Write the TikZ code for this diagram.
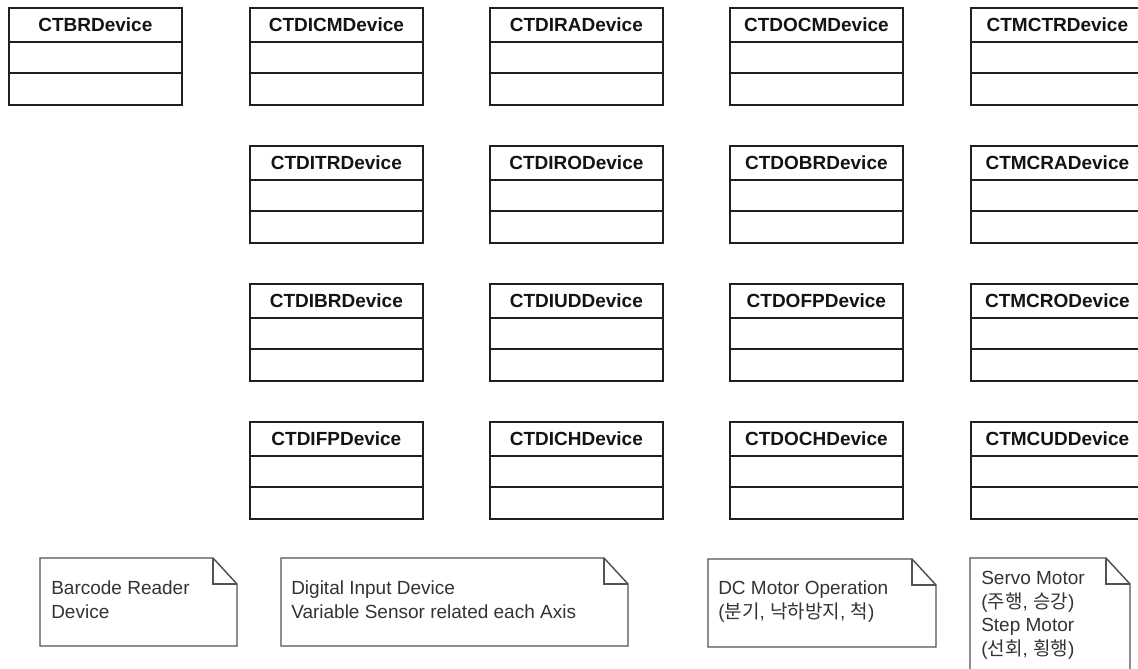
\documentclass[tikz,border=0pt]{standalone}
\usepackage{fontspec}
\setmainfont{Liberation Sans}
\newfontfamily\krfont{Noto Sans CJK KR}
\newcommand\kr[1]{{\krfont #1}}
\usetikzlibrary{calc}

\tikzset{
  classframe/.style={draw=black!88, line width=1.3pt, fill=white,
    minimum width=129.75pt, minimum height=72.75pt, inner sep=0pt, anchor=north west},
  classline/.style={draw=black!88, line width=1.3pt},
  classtitle/.style={font=\bfseries\fontsize{14.25pt}{17pt}\selectfont, text=black!92,
    inner sep=0pt, anchor=base},
  noteframe/.style={draw=black!68, line width=1.1pt, line join=miter},
  % multi-line text: the base anchor sits on the last line
  notetext/.style={font=\fontsize{14.25pt}{17.6pt}\selectfont, text=black!80,
    align=left, inner sep=0pt, anchor=base west},
}

% UML class box: name, left x, top y, title
\newcommand\umlclass[4]{%
  \node[classframe] (#1) at (#2,#3) {};
  \draw[classline] ($(#1.north west)+(0,35)$) -- ($(#1.north east)+(0,35)$);
  \draw[classline] ($(#1.north west)+(0,66)$) -- ($(#1.north east)+(0,66)$);
  \node[classtitle] (#1-title) at ($(#1.north)+(0,24)$) {#4};
}

% UML note outline with folded corner: left, top, right, bottom
\newcommand\umlnote[4]{%
  \draw[noteframe] (#1,#2) -- (#3-24,#2) -- (#3,#2+26) -- (#3,#4) -- (#1,#4) -- cycle;
  \draw[noteframe] (#3-24,#2) -- (#3-24,#2+26) -- (#3,#2+26);
}

\begin{document}
\begin{tikzpicture}[x=0.75pt, y=-0.75pt]
\useasboundingbox (0,0) rectangle (1138,668);
\clip (0,0) rectangle (1138,668);

% first row
\umlclass{br}{8}{7}{CTBRDevice}
\umlclass{dicm}{249}{7}{CTDICMDevice}
\umlclass{dira}{489}{7}{CTDIRADevice}
\umlclass{docm}{729}{7}{CTDOCMDevice}
\umlclass{mctr}{970}{7}{CTMCTRDevice}

% second row
\umlclass{ditr}{249}{145}{CTDITRDevice}
\umlclass{diro}{489}{145}{CTDIRODevice}
\umlclass{dobr}{729}{145}{CTDOBRDevice}
\umlclass{mcra}{970}{145}{CTMCRADevice}

% third row
\umlclass{dibr}{249}{283}{CTDIBRDevice}
\umlclass{diud}{489}{283}{CTDIUDDevice}
\umlclass{dofp}{729}{283}{CTDOFPDevice}
\umlclass{mcro}{970}{283}{CTMCRODevice}

% fourth row
\umlclass{difp}{249}{421}{CTDIFPDevice}
\umlclass{dich}{489}{421}{CTDICHDevice}
\umlclass{doch}{729}{421}{CTDOCHDevice}
\umlclass{mcud}{970}{421}{CTMCUDDevice}

% notes
\umlnote{40}{558}{237}{646}
\node[notetext] (note-br) at (51,618) {Barcode Reader\\Device};

\umlnote{281}{558}{628}{646}
\node[notetext] (note-di) at (291,618) {Digital Input Device\\Variable Sensor related each Axis};

\umlnote{708}{559}{936}{647}
\node[notetext] (note-do) at (718,618) {DC Motor Operation\\(\kr{분기}, \kr{낙하방지}, \kr{척})};

\umlnote{970}{558}{1130}{700}
\node[notetext] (note-mc) at (981,655) {Servo Motor\\(\kr{주행}, \kr{승강})\\Step Motor\\(\kr{선회}, \kr{횡행})};
\end{tikzpicture}
\end{document}
